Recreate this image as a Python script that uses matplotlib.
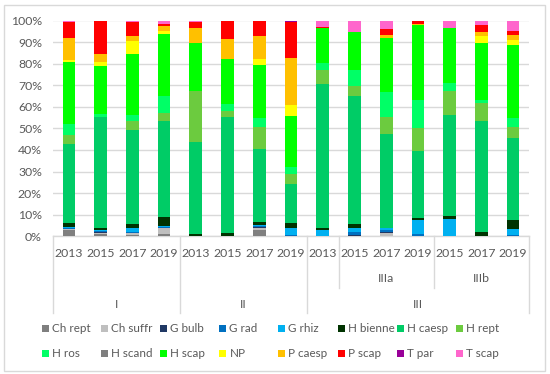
import matplotlib
matplotlib.use("Agg")
import matplotlib.pyplot as plt
from matplotlib.patches import Rectangle
from matplotlib.lines import Line2D
import numpy as np

years = ["2013", "2015", "2017", "2019", "2013", "2015", "2017", "2019",
         "2013", "2015", "2017", "2019", "2015", "2017", "2019"]
groups = ["I", "II", "III"]
subgroups = ["IIIa", "IIIb"]

series_names = ["Ch rept", "Ch suffr", "G bulb", "G rad", "G rhiz", "H bienne", "H caesp", "H rept",
                "H ros", "H scand", "H scap", "NP", "P caesp", "P scap", "T par", "T scap"]
colors = ["#7F7F7F", "#BFBFBF", "#203864", "#0070C0", "#00B0F0", "#003300", "#00CC66", "#6CCB3F",
          "#00FF66", "#7F7F7F", "#00FF00", "#FFFF00", "#FFC000", "#FF0000", "#990099", "#FF66CC"]

ch_rept  = [3.0, 1.2, 0.7, 1.1, 0, 0, 3.0, 0.3, 0, 0.3, 0, 0, 0, 0, 0]
ch_suffr = [0.3, 0.4, 0.8, 2.8, 0, 0, 1.0, 0, 0, 0, 1.6, 0, 0, 0, 0]
g_bulb   = [0, 0.3, 0, 0, 0, 0, 0.2, 0, 0, 0.5, 0.3, 0, 0, 0, 0.3]
g_rad    = [0.5, 0.5, 0.5, 0.4, 0, 0, 0.6, 0.3, 0.3, 1.0, 1.0, 1.1, 0.3, 0, 0.5]
g_rhiz   = [0.7, 0.5, 2.0, 0.5, 0, 0, 0.6, 3.1, 2.7, 2.0, 0.8, 6.3, 7.6, 0, 2.6]
h_bienne = [1.5, 1.1, 1.9, 4.0, 1.1, 1.4, 1.2, 2.5, 1.0, 2.0, 0, 0.9, 1.4, 2.1, 4.2]
h_caesp  = [36.8, 51.3, 43.1, 44.5, 42.7, 54.0, 34.0, 18.0, 66.2, 59.0, 43.7, 31.2, 46.9, 51.5, 37.8]
h_rept   = [4.3, 0, 4.1, 3.7, 23.5, 2.8, 10.0, 4.8, 6.4, 4.8, 8.0, 10.5, 11.1, 8.0, 5.2]
h_ros    = [5.0, 1.2, 2.8, 7.8, 0, 3.1, 3.9, 3.1, 3.4, 7.3, 11.6, 13.2, 3.6, 1.6, 4.4]
h_scand  = [0] * 15
h_scap   = [29.0, 22.6, 28.3, 28.7, 22.4, 20.6, 24.7, 23.5, 16.2, 17.4, 25.0, 34.7, 25.4, 26.4, 33.6]
np_      = [0.9, 1.8, 6.0, 1.7, 0, 0, 2.8, 5.2, 0, 0, 0, 0, 0, 3.4, 2.4]
p_caesp  = [10.2, 3.6, 2.5, 2.0, 7.0, 9.5, 10.8, 22.0, 0, 0, 1.3, 0.5, 0, 1.8, 2.3]
p_scap   = [7.3, 15.5, 6.4, 0.9, 2.7, 8.3, 7.0, 16.7, 0.6, 0, 2.6, 1.6, 0.4, 3.1, 1.8]
t_par    = [0, 0, 0, 0, 0, 0, 0, 0.5, 0, 0, 0, 0, 0, 0, 0]
t_scap   = [0.7, 0, 0.6, 1.8, 0.6, 0.2, 0, 0, 2.9, 5.5, 4.1, 0, 3.3, 2.1, 4.9]

data = np.array([ch_rept, ch_suffr, g_bulb, g_rad, g_rhiz, h_bienne, h_caesp, h_rept,
                 h_ros, h_scand, h_scap, np_, p_caesp, p_scap, t_par, t_scap], dtype=float)
pct = data / data.sum(axis=0) * 100.0

plt.rcParams['font.family'] = ['Lato', 'DejaVu Sans']
txt_color = "#595959"
grid_color = "#D9D9D9"
fs = 8.8
lfs = 8.4

fig = plt.figure(figsize=(5.5, 3.74), dpi=100)
ax = fig.add_axes([53 / 550, 1 - 236.3 / 374, (529 - 53) / 550, (236.3 - 20.5) / 374])

x = np.arange(len(years))
bottom = np.zeros(len(years))
for i, name in enumerate(series_names):
    ax.bar(x, pct[i], bottom=bottom, width=0.4, color=colors[i], label=name, linewidth=0, zorder=3)
    bottom += pct[i]

ax.set_xlim(-0.5, len(years) - 0.5)
ax.set_ylim(0, 100)
ax.set_yticks(np.arange(0, 101, 10))
ax.set_yticklabels([f"{v}%" for v in range(0, 101, 10)], color=txt_color, fontsize=fs)
ax.yaxis.grid(True, color=grid_color, linewidth=1, zorder=0)
ax.tick_params(axis='y', length=0, pad=8)
ax.set_xticks([])
for s in ["top", "right", "left"]:
    ax.spines[s].set_visible(False)
ax.spines["bottom"].set_color(grid_color)
ax.spines["bottom"].set_linewidth(1)

tr = ax.get_xaxis_transform()
for xi, y in zip(x, years):
    ax.text(xi, -0.082, y, transform=tr, ha="center", va="center", fontsize=fs, color=txt_color)
for xi, s in zip([10, 13], subgroups):
    ax.text(xi, -0.197, s, transform=tr, ha="center", va="center", fontsize=fs, color=txt_color)
for xi, g in zip([1.5, 5.5, 11], groups):
    ax.text(xi, -0.318, g, transform=tr, ha="center", va="center", fontsize=fs, color=txt_color)
for xs in [-0.5, 3.5, 7.5, 14.5]:
    ax.add_line(Line2D([xs, xs], [0, -0.357], transform=tr, color=grid_color, linewidth=1, clip_on=False))
for xs in [8.5, 11.5]:
    ax.add_line(Line2D([xs, xs], [0, -0.239], transform=tr, color=grid_color, linewidth=1, clip_on=False))

col_x = [45.8, 104.6, 163.7, 222.9, 281.7, 341.5, 400.4, 459.5]
row_y = [328, 353.5]
sq = 7
for i, name in enumerate(series_names):
    r, c = divmod(i, 8)
    cx, cy = col_x[c], row_y[r]
    fig.add_artist(Rectangle(((cx - sq / 2) / 550, 1 - (cy + sq / 2) / 374), sq / 550, sq / 374,
                             transform=fig.transFigure, facecolor=colors[i], edgecolor="none"))
    fig.text((cx + 6.5) / 550, 1 - cy / 374, name, ha="left", va="center", fontsize=lfs, color=txt_color)

fig.add_artist(Rectangle((4 / 550, 1 - 371 / 374), 541 / 550, 366 / 374, transform=fig.transFigure,
                         facecolor="none", edgecolor=grid_color, linewidth=1))

fig.savefig("out.png", dpi=100)
